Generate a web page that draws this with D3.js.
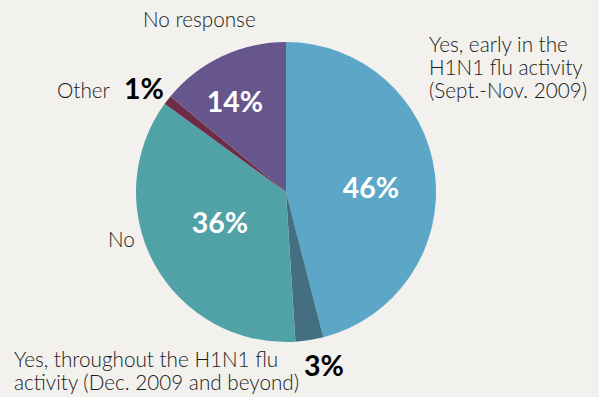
<!DOCTYPE html>
<html>
<head>
<meta charset="utf-8">
<script src="https://cdn.jsdelivr.net/npm/d3@7"></script>
<style>
  html, body { margin: 0; padding: 0; background: #f2f1ed; }
  svg { display: block; }
  .lbl { font-family: Lato, "Open Sans", sans-serif; font-weight: 300; font-size: 20.7px; fill: #1a1a1a; }
  .pct { font-family: Lato, "Open Sans", sans-serif; font-weight: 700; }
</style>
</head>
<body>
<svg id="chart" width="599" height="397"></svg>
<script>
// slice data, clockwise from 12 o'clock
const categories = [
  'Yes, early in the H1N1 flu activity (Sept.-Nov. 2009)',
  'Yes, throughout the H1N1 flu activity (Dec. 2009 and beyond)',
  'No',
  'Other',
  'No response',
];
const values = [46, 3, 36, 1, 14];
const colors = ['#5ca6c7', '#446e81', '#50a2a6', '#6e2b45', '#66568b'];

// label texts (lines) per slice
const labelLines = [
  ['Yes, early in the', 'H1N1 flu activity', '(Sept.-Nov. 2009)'],
  ['Yes, throughout the H1N1 flu', 'activity (Dec. 2009 and beyond)'],
  ['No'],
  ['Other'],
  ['No response'],
];

const svg = d3.select('#chart');
const cx = 286;
const cy = 192;
const radius = 150;

const pie = d3.pie().sort(null).value(d => d);
const arcs = pie(values);
const arc = d3.arc().innerRadius(0).outerRadius(radius);

const g = svg.append('g').attr('transform', `translate(${cx},${cy})`);

g.selectAll('path')
  .data(arcs)
  .enter()
  .append('path')
  .attr('d', arc)
  .attr('fill', (d, i) => colors[i]);

// percent labels: inside (white) or outside (black)
const pctLayout = [
  { x: 371, y: 198, size: 28.5, fill: '#fff', anchor: 'middle' },
  { x: 304, y: 376, size: 28.5, fill: '#000', anchor: 'start' },
  { x: 220, y: 233, size: 28.5, fill: '#fff', anchor: 'middle' },
  { x: 124, y: 99, size: 28.5, fill: '#000', anchor: 'start' },
  { x: 235, y: 112, size: 28.5, fill: '#fff', anchor: 'middle' },
];

svg.selectAll('text.pct')
  .data(arcs)
  .enter()
  .append('text')
  .attr('class', 'pct')
  .attr('x', (d, i) => pctLayout[i].x)
  .attr('y', (d, i) => pctLayout[i].y)
  .attr('text-anchor', (d, i) => pctLayout[i].anchor)
  .attr('font-size', (d, i) => pctLayout[i].size)
  .attr('fill', (d, i) => pctLayout[i].fill)
  .text(d => `${d.value}%`);

// category labels
const catLayout = [
  { x: 429, y: 52 },
  { x: 14, y: 367 },
  { x: 108, y: 247 },
  { x: 57, y: 98 },
  { x: 143, y: 27 },
];
const lineHeight = 23;

const cat = svg.selectAll('text.lbl')
  .data(labelLines)
  .enter()
  .append('text')
  .attr('class', 'lbl')
  .attr('x', (d, i) => catLayout[i].x)
  .attr('y', (d, i) => catLayout[i].y);

cat.selectAll('tspan')
  .data(d => d)
  .enter()
  .append('tspan')
  .attr('x', function () { return d3.select(this.parentNode).attr('x'); })
  .attr('dy', (d, j) => (j === 0 ? 0 : lineHeight))
  .text(d => d);
</script>
</body>
</html>
